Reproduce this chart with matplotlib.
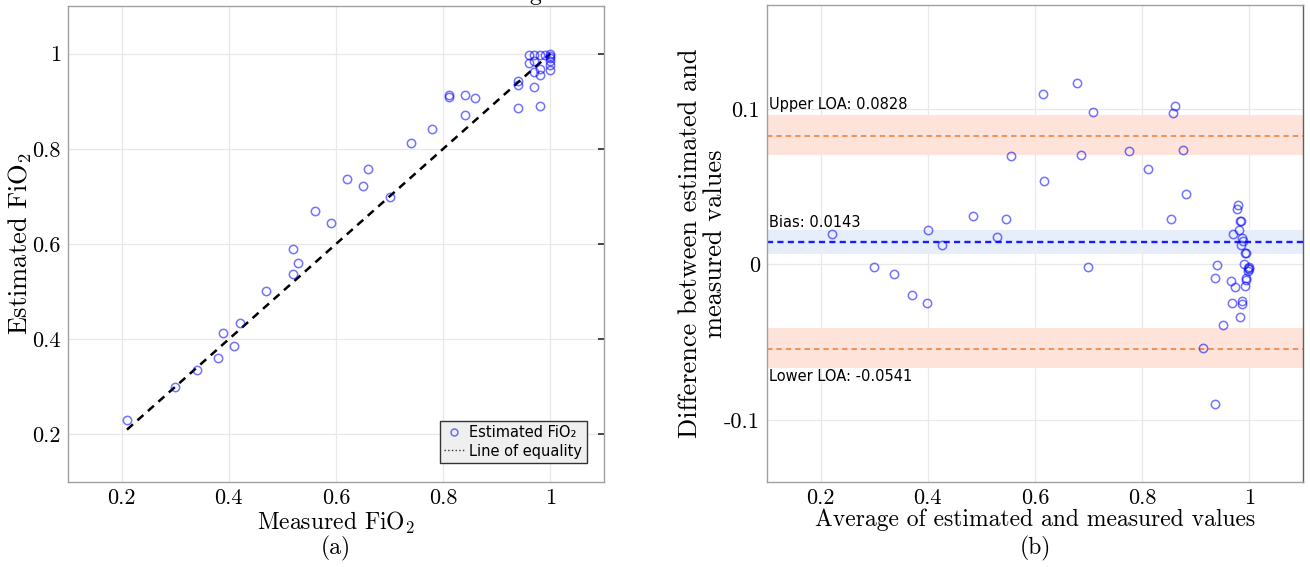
import numpy as np
import matplotlib
matplotlib.use("Agg")
import matplotlib.pyplot as plt
from matplotlib.lines import Line2D

# (a) measured vs estimated FiO2
measured = [0.21, 0.30, 0.34, 0.38, 0.39, 0.41, 0.42, 0.47, 0.52, 0.52,
            0.53, 0.56, 0.59, 0.62, 0.65, 0.66, 0.70, 0.74, 0.78, 0.81,
            0.81, 0.84, 0.84, 0.86, 0.94, 0.94, 0.94, 0.96, 0.96, 0.97,
            0.97, 0.97, 0.97, 0.98, 0.98, 0.98, 0.98, 0.99, 1.00, 1.00,
            1.00, 1.00, 1.00, 1.00]
estimated = [0.230, 0.299, 0.335, 0.361, 0.413, 0.385, 0.434, 0.502, 0.590, 0.538,
             0.560, 0.670, 0.644, 0.737, 0.721, 0.758, 0.698, 0.813, 0.842, 0.913,
             0.908, 0.914, 0.870, 0.906, 0.942, 0.933, 0.886, 0.980, 0.997, 0.961,
             0.930, 0.997, 0.985, 0.968, 0.954, 0.889, 0.997, 0.997, 0.999, 0.995,
             0.990, 0.984, 0.976, 0.966]
equality_x = [0.21, 1.0]

# (b) Bland-Altman
avg_vals = [0.221, 0.300, 0.337, 0.370, 0.398, 0.401, 0.427, 0.485, 0.529, 0.545,
            0.555, 0.615, 0.617, 0.678, 0.685, 0.699, 0.709, 0.776, 0.810, 0.854,
            0.858, 0.861, 0.877, 0.882, 0.913, 0.935, 0.936, 0.940, 0.950, 0.965,
            0.967, 0.970, 0.973, 0.977, 0.979, 0.983, 0.983, 0.981, 0.984, 0.986,
            0.986, 0.985, 0.987, 0.988, 0.989, 0.992, 0.994, 0.992, 0.994, 0.994,
            0.997, 0.998, 1.000, 0.999]
diff_vals = [0.0195, -0.0014, -0.0063, -0.0198, -0.0251, 0.0221, 0.0126, 0.0309, 0.0177, 0.0291,
             0.0700, 0.1095, 0.0537, 0.1170, 0.0707, -0.0019, 0.0979, 0.0730, 0.0612, 0.0293,
             0.0974, 0.1023, 0.0735, 0.0456, -0.0537, -0.0898, -0.0084, -0.0005, -0.0388, -0.0105,
             -0.0247, 0.0198, -0.0144, 0.0356, 0.0381, -0.0340, 0.0279, 0.0221, 0.0280, -0.0237,
             -0.0253, 0.0123, 0.0172, 0.0153, 0.0002, 0.0077, 0.0072, -0.0137, -0.0102, -0.0084,
             -0.0040, -0.0020, -0.0016, -0.0030]
bias = 0.0143
upper_loa = 0.0828
lower_loa = -0.0541
upper_band = [0.0705, 0.0965]
bias_band = [0.0070, 0.0220]
lower_band = [-0.0665, -0.0410]

xticks = [0.2, 0.4, 0.6, 0.8, 1.0]
xtick_labels = ['0.2', '0.4', '0.6', '0.8', '1']
yticks_a = [0.2, 0.4, 0.6, 0.8, 1.0]
yticks_b = [-0.1, 0.0, 0.1]
ytick_labels_b = ['-0.1', '0', '0.1']

plt.rcParams['mathtext.fontset'] = 'cm'
plt.rcParams['axes.unicode_minus'] = False

serif = 'cmr10'
xlab_fs = 17
ylab_fs = 19
tick_fs = 16
blue = (0, 0, 1, 0.55)
spine_c = '#a0a0a0'
grid_c = '#e8e8e8'

fig = plt.figure(figsize=(13.1, 5.67), dpi=100)
ax1 = fig.add_axes([68 / 1310, 1 - 482 / 567, 536 / 1310, 476 / 567])
ax2 = fig.add_axes([767 / 1310, 1 - 482 / 567, 536 / 1310, 477 / 567])


def style(ax):
    for s in ax.spines.values():
        s.set_color(spine_c)
        s.set_linewidth(1.0)
    ax.grid(True, color=grid_c, linewidth=0.9)
    ax.set_axisbelow(True)
    for lab in ax.get_xticklabels() + ax.get_yticklabels():
        lab.set_fontfamily(serif)
        lab.set_fontsize(tick_fs)


# ---- panel (a)
ax1.plot(measured, estimated, 'o', mfc='none', mec=blue, ms=6, mew=1.1, zorder=3)
ax1.plot(equality_x, equality_x, '--', color='k', lw=1.8, dashes=(3.2, 2.4), zorder=2)
ax1.set_xlim(0.1, 1.1)
ax1.set_ylim(0.1, 1.1)
ax1.set_xticks(xticks, xtick_labels)
ax1.set_yticks(yticks_a, xtick_labels)
ax1.tick_params(axis='x', length=0, pad=5)
ax1.tick_params(axis='y', direction='in', left=False, right=True, length=4,
                width=1.4, color='#444444', pad=5)
style(ax1)
ax1.set_xlabel('Measured FiO$_2$', fontfamily=serif, fontsize=xlab_fs, labelpad=1)
ax1.set_ylabel('Estimated FiO$_2$', fontfamily=serif, fontsize=ylab_fs, labelpad=-1)

handles = [Line2D([], [], ls='none', marker='o', mfc='none', mec=blue, ms=5, mew=1.1),
           Line2D([], [], color='#333333', ls=':', lw=1.0)]
leg = ax1.legend(handles, ['Estimated FiO₂', 'Line of equality'],
                 loc='lower right', bbox_to_anchor=(0.968, 0.04), borderaxespad=0,
                 fontsize=10.5, handlelength=1.4, handletextpad=0.35,
                 borderpad=0.3, labelspacing=0.25, fancybox=False, framealpha=1)
leg.get_frame().set_facecolor('#efefef')
leg.get_frame().set_edgecolor('#333333')
leg.get_frame().set_linewidth(1.0)

# ---- panel (b)
ax2.axhspan(upper_band[0], upper_band[1], color='#fde3da', lw=0, zorder=1)
ax2.axhspan(lower_band[0], lower_band[1], color='#fde3da', lw=0, zorder=1)
ax2.axhspan(bias_band[0], bias_band[1], color='#e6edfb', lw=0, zorder=1)
ax2.axhline(upper_loa, color='#f08a4b', ls='--', lw=1.3, dashes=(3, 2.2), zorder=2)
ax2.axhline(lower_loa, color='#f08a4b', ls='--', lw=1.3, dashes=(3, 2.2), zorder=2)
ax2.axhline(bias, color='#1a1aff', ls='--', lw=1.7, dashes=(2.6, 1.8), zorder=2)
ax2.plot(avg_vals, diff_vals, 'o', mfc='none', mec=blue, ms=6, mew=1.1, zorder=3)
ax2.set_xlim(0.1, 1.1)
ax2.set_ylim(-0.14, 0.167)
ax2.set_xticks(xticks, xtick_labels)
ax2.set_yticks(yticks_b, ytick_labels_b)
ax2.tick_params(axis='both', length=0, pad=5)
style(ax2)
ax2.spines['right'].set_color('#606060')
ax2.set_xlabel('Average of estimated and measured values', fontfamily=serif,
               fontsize=xlab_fs, labelpad=0)
ax2.set_ylabel('Difference between estimated and\nmeasured values', fontfamily=serif,
               fontsize=ylab_fs, labelpad=-2, linespacing=1.05)

ann_fs = 10.5
ax2.text(0.104, upper_loa + 0.017, 'Upper LOA: %.4f' % upper_loa, fontsize=ann_fs, va='baseline')
ax2.text(0.104, bias + 0.010, 'Bias: %.4f' % bias, fontsize=ann_fs, va='baseline')
ax2.text(0.104, lower_loa - 0.021, 'Lower LOA: %.4f' % lower_loa, fontsize=ann_fs, va='baseline')

# panel captions
fig.text((68 + 604) / 2 / 1310, 1 - 548 / 567, '(a)', fontfamily=serif, fontsize=xlab_fs,
         ha='center', va='center')
fig.text((767 + 1303) / 2 / 1310, 1 - 548 / 567, '(b)', fontfamily=serif, fontsize=xlab_fs,
         ha='center', va='center')
# clipped caption fragment at the very top, as in the source image
fig.text(535 / 1310, 1.0, 'g', fontfamily=serif, fontsize=xlab_fs, ha='center', va='baseline')

fig.savefig('out.png', dpi=100)
